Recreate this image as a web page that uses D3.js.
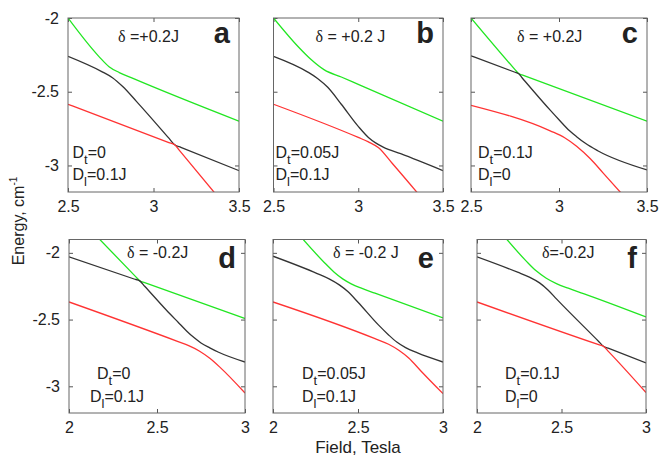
<!DOCTYPE html>
<html><head><meta charset="utf-8">
<script src="https://cdn.jsdelivr.net/npm/d3@7"></script>
<style>body{margin:0;background:#fff}svg{display:block}text{font-family:"Liberation Sans",Arial,sans-serif;fill:#222}</style>
</head><body>
<svg id="c" width="661" height="461"></svg>
<script>
// ---------- data ----------
const panelLetters = ["a","b","c","d","e","f"];
const deltaLabels = ["=+0.2J","= +0.2 J","= +0.2J","= -0.2J","= -0.2 J","=-0.2J"];
const dtLabels = ["=0","=0.05J","=0.1J","=0","=0.05J","=0.1J"];
const dlLabels = ["=0.1J","=0.1J","=0","=0.1J","=0.1J","=0"];
const topXTicks = [2.5,3,3.5];
const bottomXTicks = [2,2.5,3];
const yTicks = [-2,-2.5,-3];
const xTitle = "Field, Tesla";
const yTitle = "Energy, cm";

const aGreen = [[2.5,-2.0],[2.68,-2.26],[2.74,-2.33],[2.8,-2.37],[2.88,-2.41],[3.5,-2.70]];
const aBlack = [[2.5,-2.26],[2.7,-2.365],[2.76,-2.405],[2.82,-2.465],[2.9,-2.565],[3.09,-2.815],[3.124,-2.86],[3.16,-2.877],[3.5,-3.035]];
const aRed = [[2.5,-2.585],[3.09,-2.845],[3.124,-2.86],[3.16,-2.91],[3.4,-3.245]];

const bGreen = [[2.5,-2.0],[2.65,-2.2],[2.72,-2.28],[2.8,-2.352],[2.9,-2.40],[3.0,-2.45],[3.5,-2.70]];
const bBlack = [[2.5,-2.26],[2.7,-2.365],[2.76,-2.41],[2.82,-2.47],[2.9,-2.585],[3.0,-2.735],[3.06,-2.81],[3.1,-2.845],[3.15,-2.877],[3.25,-2.92],[3.5,-3.035]];
const bRed = [[2.5,-2.585],[3.0,-2.81],[3.06,-2.84],[3.12,-2.88],[3.2,-2.985],[3.4,-3.255]];

const cGreen = [[2.5,-2.0],[2.75,-2.35],[2.77,-2.377],[2.79,-2.386],[3.5,-2.70]];
const cBlack = [[2.5,-2.256],[2.75,-2.368],[2.77,-2.377],[2.79,-2.405],[2.95,-2.625],[3.0,-2.69],[3.06,-2.765],[3.1,-2.805],[3.15,-2.85],[3.22,-2.90],[3.5,-3.03]];
const cRed = [[2.5,-2.592],[2.95,-2.765],[3.03,-2.81],[3.1,-2.87],[3.178,-2.955],[3.25,-3.05],[3.4,-3.25]];

const dGreen = [[2.15,-1.866],[2.38,-2.18],[2.402,-2.21],[2.43,-2.223],[3.0,-2.492]];
const dBlack = [[2.0,-2.03],[2.37,-2.196],[2.402,-2.21],[2.43,-2.25],[2.554,-2.43],[2.62,-2.52],[2.668,-2.585],[2.71,-2.635],[2.75,-2.675],[2.8,-2.712],[2.85,-2.745],[3.0,-2.818]];
const dRed = [[2.0,-2.368],[2.62,-2.665],[2.68,-2.695],[2.74,-2.735],[2.8,-2.79],[2.86,-2.86],[3.0,-3.05]];

const eGreen = [[2.15,-1.86],[2.3,-2.07],[2.36,-2.145],[2.41,-2.195],[2.46,-2.232],[2.52,-2.265],[2.6,-2.302],[3.0,-2.488]];
const eBlack = [[2.0,-2.025],[2.26,-2.155],[2.33,-2.195],[2.39,-2.24],[2.44,-2.29],[2.5,-2.37],[2.62,-2.54],[2.68,-2.615],[2.73,-2.67],[2.78,-2.71],[2.85,-2.75],[3.0,-2.818]];
const eRed = [[2.0,-2.368],[2.6,-2.643],[2.68,-2.685],[2.74,-2.73],[2.8,-2.79],[2.87,-2.885],[3.0,-3.055]];

const fGreen = [[2.15,-1.86],[2.29,-2.06],[2.35,-2.135],[2.41,-2.19],[2.47,-2.23],[2.54,-2.265],[2.63,-2.305],[3.0,-2.48]];
const fBlack = [[2.0,-2.03],[2.24,-2.145],[2.31,-2.182],[2.37,-2.225],[2.42,-2.278],[2.47,-2.345],[2.72,-2.664],[2.748,-2.70],[2.78,-2.716],[3.0,-2.825]];
const fRed = [[2.0,-2.368],[2.72,-2.688],[2.748,-2.70],[2.78,-2.742],[3.0,-3.047]];

const curveSets = [
  [aGreen,aBlack,aRed],[bGreen,bBlack,bRed],[cGreen,cBlack,cRed],
  [dGreen,dBlack,dRed],[eGreen,eBlack,eRed],[fGreen,fBlack,fRed]
];
const curveColors = ["#22e622","#333333","#ff3333"];

// ---------- layout ----------
const boxes = [
  {l:68,r:239,t:18,b:192,row:0},
  {l:273.5,r:443,t:18,b:192,row:0},
  {l:471,r:647,t:18,b:192,row:0},
  {l:69,r:245,t:239.5,b:413,row:1},
  {l:273,r:443,t:239.5,b:413,row:1},
  {l:477,r:646,t:239.5,b:413,row:1}
];
const rowX = [[2.5,3.5],[2,3]];
const rowY = [[-3.18,-2],[-3.2,-1.9]];
const svg = d3.select("#c");
const fmt = d => String(d);

boxes.forEach((bx,i) => {
  const x = d3.scaleLinear().domain(rowX[bx.row]).range([bx.l,bx.r]);
  const y = d3.scaleLinear().domain(rowY[bx.row]).range([bx.b,bx.t]);
  const xt = bx.row===0 ? topXTicks : bottomXTicks;
  const g = svg.append("g");
  const clipId = "clip"+i;
  svg.append("clipPath").attr("id",clipId).append("rect")
    .attr("x",bx.l).attr("y",bx.t).attr("width",bx.r-bx.l).attr("height",bx.b-bx.t);

  const styleAxis = (sel, showLabels) => {
    sel.select(".domain").remove();
    sel.selectAll(".tick line").attr("stroke","#555");
    sel.selectAll(".tick text").style("font-size","16px").attr("fill","#222")
      .style("display", showLabels ? null : "none");
  };
  g.append("g").attr("transform",`translate(0,${bx.b})`)
    .call(d3.axisBottom(x).tickValues(xt).tickFormat(fmt).tickSize(-4).tickPadding(9))
    .call(s=>styleAxis(s,true));
  g.append("g").attr("transform",`translate(0,${bx.t})`)
    .call(d3.axisTop(x).tickValues(xt).tickFormat(fmt).tickSize(-4))
    .call(s=>styleAxis(s,false));
  g.append("g").attr("transform",`translate(${bx.l},0)`)
    .call(d3.axisLeft(y).tickValues(yTicks).tickFormat(fmt).tickSize(-4).tickPadding(9))
    .call(s=>styleAxis(s, i===0||i===3));
  g.append("g").attr("transform",`translate(${bx.r},0)`)
    .call(d3.axisRight(y).tickValues(yTicks).tickFormat(fmt).tickSize(-4))
    .call(s=>styleAxis(s,false));

  const line = d3.line().x(d=>x(d[0])).y(d=>y(d[1])).curve(d3.curveMonotoneX);
  const cg = g.append("g").attr("clip-path",`url(#${clipId})`);
  curveSets[i].forEach((pts,k) => {
    cg.append("path").datum(pts).attr("d",line)
      .attr("fill","none").attr("stroke",curveColors[k]).attr("stroke-width",1.3);
  });

  g.append("rect").attr("x",bx.l).attr("y",bx.t).attr("width",bx.r-bx.l).attr("height",bx.b-bx.t)
    .attr("fill","none").attr("stroke","#666").attr("stroke-width",1);

  // panel letter
  g.append("text").attr("x",bx.r-9).attr("y",bx.t+(bx.row===0?25:28))
    .attr("text-anchor","end").style("font-size","29px").style("font-weight","bold")
    .attr("fill","#111").text(panelLetters[i]);

  // delta label
  const dOff = [50,42,46,58,60,65][i];
  const dt = g.append("text").attr("x",bx.l+dOff).attr("y",bx.t+(bx.row===0?24:18)).style("font-size","16px");
  dt.append("tspan").style("font-family","'Liberation Serif','Times New Roman',serif").text("δ");
  dt.append("tspan").text((i===5?"":" ")+deltaLabels[i]);

  // D labels
  const dx1 = [4.5,2,7,28,29,28][i], dx2 = [4.5,2,7,21,29,28][i];
  const base1 = bx.row===0 ? bx.t+140 : bx.t+139;
  const base2 = bx.t+162;
  const t1 = g.append("text").attr("x",bx.l+dx1).attr("y",base1).style("font-size","16px");
  t1.append("tspan").text("D");
  t1.append("tspan").attr("dy",6).style("font-size","13px").text("t");
  t1.append("tspan").attr("dy",-6).text(dtLabels[i]);
  const t2 = g.append("text").attr("x",bx.l+dx2).attr("y",base2).style("font-size","16px");
  t2.append("tspan").text("D");
  t2.append("tspan").attr("dy",6).style("font-size","13px").text("l");
  t2.append("tspan").attr("dy",-6).text(dlLabels[i]);
});

// axis titles
svg.append("text").attr("x",358).attr("y",453).attr("text-anchor","middle")
  .style("font-size","17px").text(xTitle);
const yt = svg.append("text").attr("transform","translate(24,221) rotate(-90)")
  .attr("text-anchor","middle").style("font-size","16px");
yt.append("tspan").text(yTitle);
yt.append("tspan").attr("dy",-7).style("font-size","10px").text("-1");
</script>
</body></html>
